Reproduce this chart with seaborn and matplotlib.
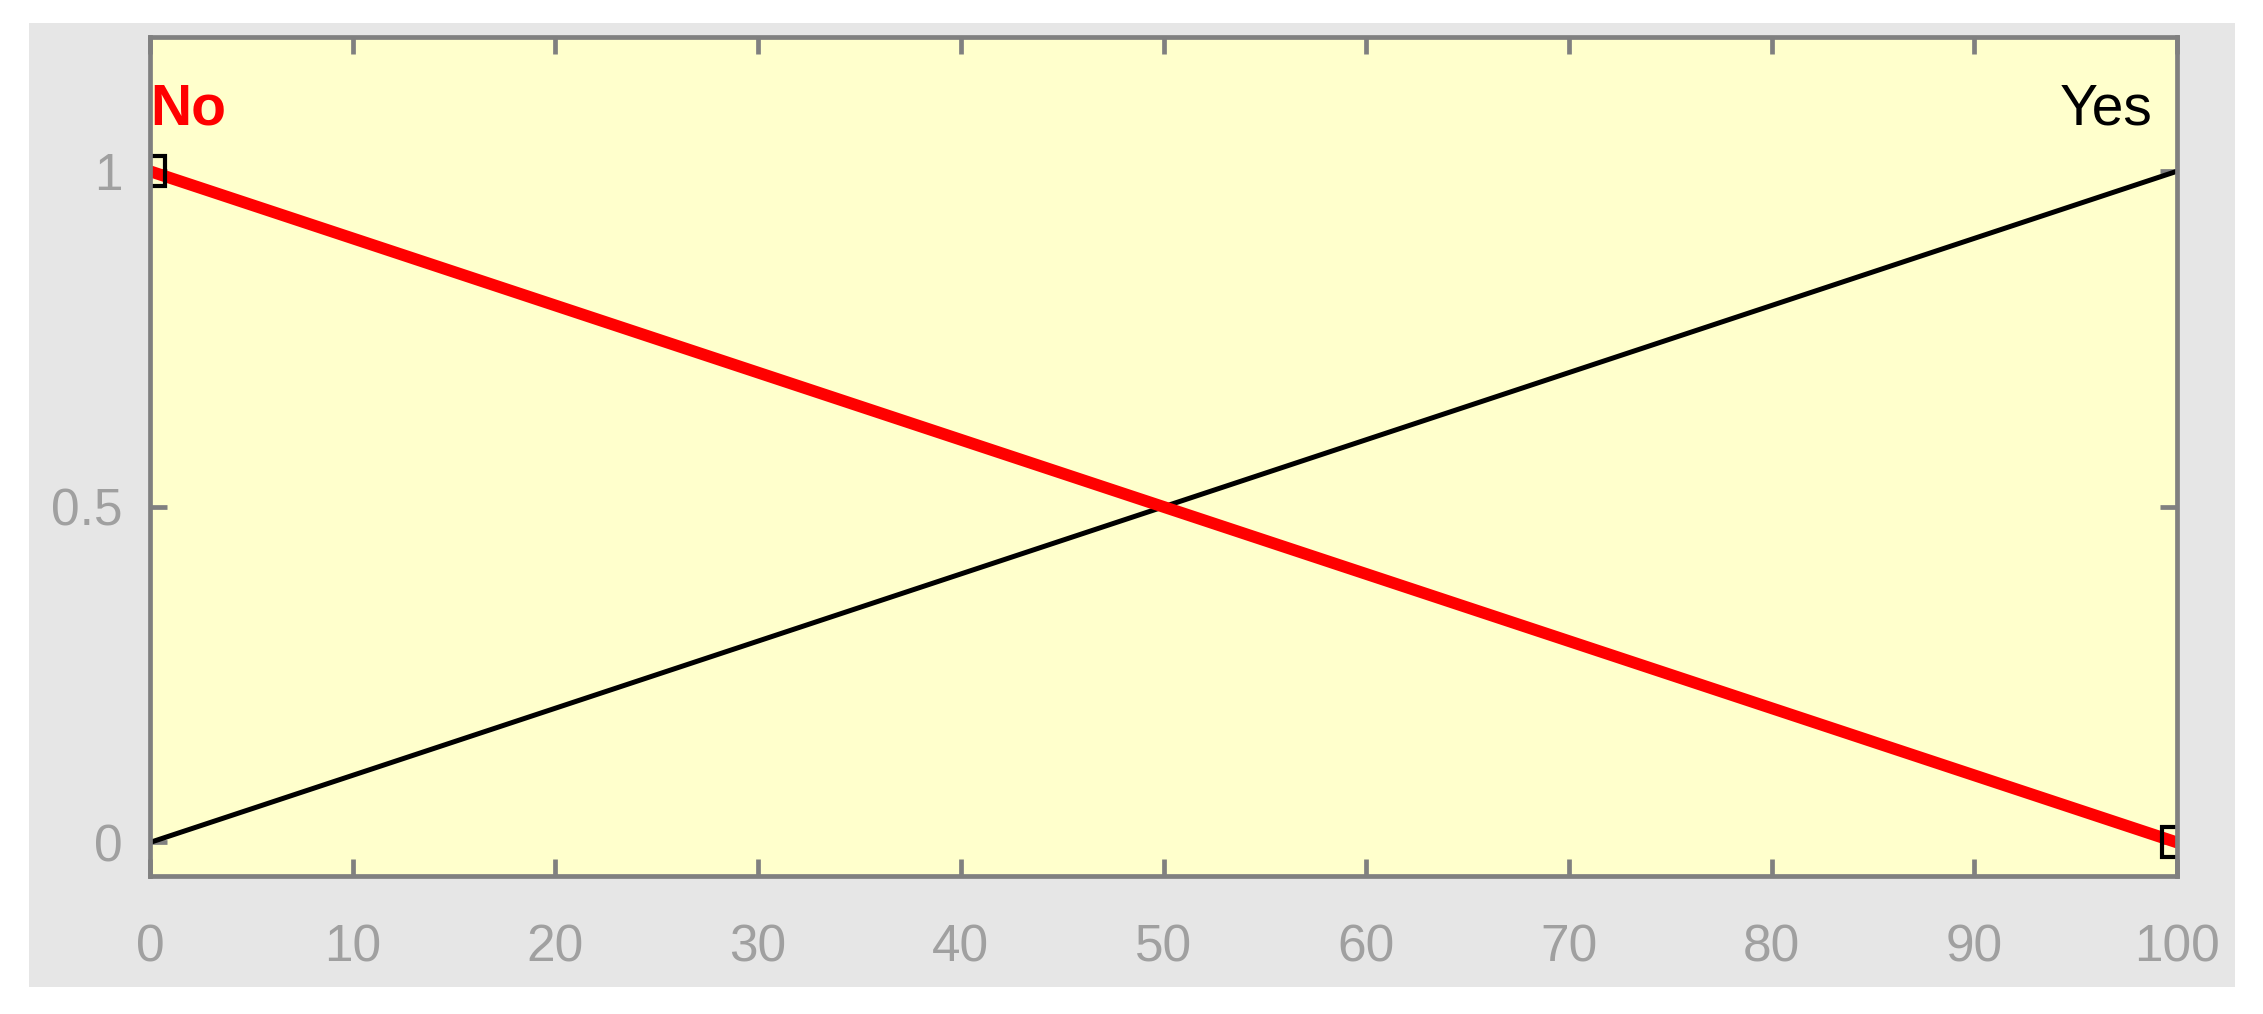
import matplotlib
matplotlib.use("Agg")
import matplotlib.pyplot as plt
from matplotlib.patches import Rectangle
import pandas as pd
import seaborn as sns

# data
x_vals = [0, 100]
no_vals = [1, 0]
yes_vals = [0, 1]
x_ticks = [0, 10, 20, 30, 40, 50, 60, 70, 80, 90, 100]
y_ticks = [0, 0.5, 1]
y_tick_labels = ["0", "0.5", "1"]

sns.set_theme(style="ticks")
plt.rcParams["font.family"] = ["Liberation Sans", "DejaVu Sans"]

W, H = 2263, 1014
fig = plt.figure(figsize=(W / 100, H / 100), dpi=100, facecolor="white")

# grey panel behind the axes
fig.patches.append(Rectangle((29 / W, 1 - 987 / H), (2235 - 29) / W, (987 - 23) / H,
                             transform=fig.transFigure, facecolor="#e6e6e6",
                             edgecolor="none", zorder=-10))

ax = fig.add_axes([150 / W, 1 - 876 / H, (2177 - 150) / W, (876 - 37) / H])
ax.set_zorder(5)
ax.set_facecolor("#ffffcc")

df = pd.DataFrame({"x": x_vals, "No": no_vals, "Yes": yes_vals})

sns.lineplot(data=df, x="x", y="Yes", ax=ax, color="black", lw=3.6)
sns.lineplot(data=df, x="x", y="No", ax=ax, color="red", lw=8.5,
             marker="s", ms=21, mfc="none", mec="black", mew=3)

ax.set_xlim(0, 100)
ax.set_ylim(-0.05, 1.2)
ax.set_xticks(x_ticks)
ax.set_yticks(y_ticks)
ax.set_yticklabels(y_tick_labels)
ax.set_xlabel("")
ax.set_ylabel("")

for s in ax.spines.values():
    s.set_color("#808080")
    s.set_linewidth(3.4)

ax.tick_params(axis="both", direction="in", length=12, width=3.4, color="#808080",
               labelcolor="#a0a0a0", labelsize=37)
ax.tick_params(axis="x", top=True, pad=34)
ax.tick_params(axis="y", right=True, pad=20)

ax.text(0, 1.07, "No", color="red", fontsize=41, fontweight="bold",
        ha="left", va="baseline")
ax.text(98.8, 1.07, "Yes", color="black", fontsize=41,
        ha="right", va="baseline")

fig.savefig("out.png", dpi=100)
